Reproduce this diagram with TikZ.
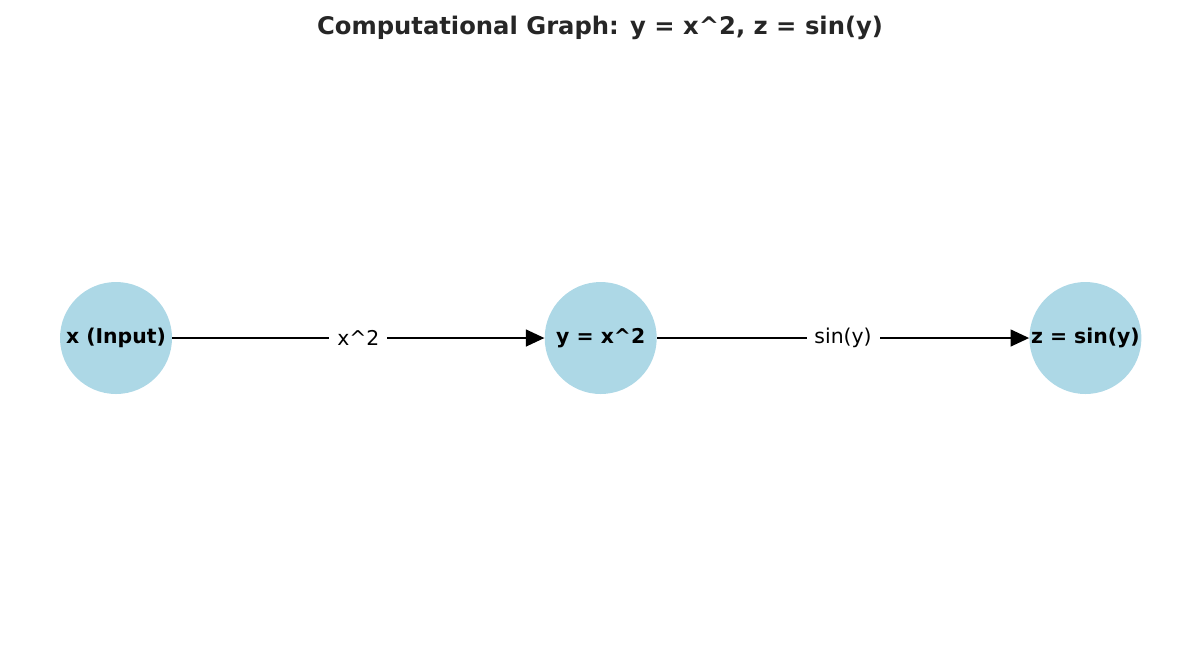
\documentclass[tikz,border=0pt]{standalone}
\usepackage{fontspec}
\setmainfont{DejaVu Sans}
\usetikzlibrary{positioning,arrows.meta}
\definecolor{knotenblau}{HTML}{ADD8E6}
\definecolor{titelgrau}{HTML}{262626}
\tikzset {
knoten/.style={shape=circle,fill=knotenblau,minimum size=2.24cm,inner sep=0pt,font=\fontsize{11.6}{13}\selectfont\bfseries},
kante/.style={fill=white,inner xsep=4.5pt,inner ysep=3pt,font=\fontsize{11.6}{13}\selectfont}
}
\begin{document}
\begin{tikzpicture}
[>={Triangle[length=3.7mm,width=3.4mm]},node distance=7.44cm]
\useasboundingbox (0,0) rectangle (24,-12.92);
\node[font=\fontsize{13.8}{16}\selectfont\bfseries,text=titelgrau] (titel) at (12,-0.56) {Computational Graph: y = x\textasciicircum 2, z = sin(y)};
\node[knoten] (x) at (2.32,-6.76) {x (Input)};
\node[knoten] (y) [right=of x] {y = x\textasciicircum 2};
\node[knoten] (z) [right=of y] {z = sin(y)};

\draw[->,thick] (x) to node[kante] {x\textasciicircum 2} (y);
\draw[->,thick] (y) to node[kante] {sin(y)} (z);
\end{tikzpicture}
\end{document}
